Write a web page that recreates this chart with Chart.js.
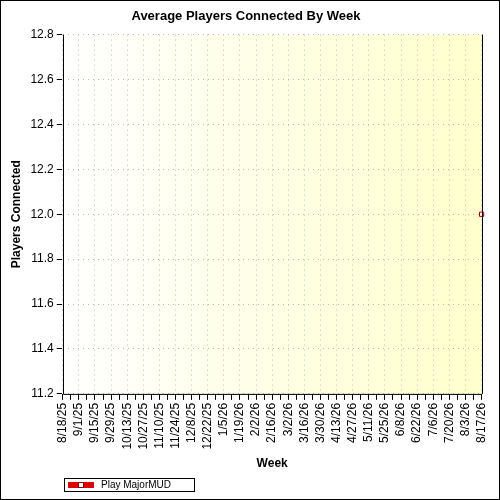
<!DOCTYPE html>
<html><head><meta charset="utf-8">
<script src="https://cdn.jsdelivr.net/npm/chart.js@4"></script>
<style>html,body{margin:0;padding:0;background:#fff}#w{width:498px;height:498px;border:1px solid #000}</style>
</head><body><div id="w"><canvas id="c" width="498" height="498"></canvas></div>
<script>
const weeks = ["8/18/25","8/25/25","9/1/25","9/8/25","9/15/25","9/22/25","9/29/25","10/6/25","10/13/25","10/20/25","10/27/25","11/3/25","11/10/25","11/17/25","11/24/25","12/1/25","12/8/25","12/15/25","12/22/25","12/29/25","1/5/26","1/12/26","1/19/26","1/26/26","2/2/26","2/9/26","2/16/26","2/23/26","3/2/26","3/9/26","3/16/26","3/23/26","3/30/26","4/6/26","4/13/26","4/20/26","4/27/26","5/4/26","5/11/26","5/18/26","5/25/26","6/1/26","6/8/26","6/15/26","6/22/26","6/29/26","7/6/26","7/13/26","7/20/26","7/27/26","8/3/26","8/10/26","8/17/26"];
const playersValues = [null,null,null,null,null,null,null,null,null,null,null,null,null,null,null,null,null,null,null,null,null,null,null,null,null,null,null,null,null,null,null,null,null,null,null,null,null,null,null,null,null,null,null,null,null,null,null,null,null,null,null,null,12.0];
const yTicks = [11.2,11.4,11.6,11.8,12.0,12.2,12.4,12.6,12.8];
const seriesName = "Play MajorMUD";
const FONT = 'Arial, "Liberation Sans", sans-serif';

const bgPlugin = {
  id:'bg',
  beforeDraw(c){const a=c.chartArea,x=c.ctx;const g=x.createLinearGradient(a.left,a.top,a.right,a.top);
    g.addColorStop(0,'#ffffff');g.addColorStop(1,'#ffffcc');x.save();x.fillStyle=g;x.fillRect(a.left,a.top,a.right-a.left,a.bottom-a.top);x.restore();},
  afterDatasetsDraw(c){const a=c.chartArea,x=c.ctx;x.save();x.strokeStyle='#000';x.lineWidth=1;x.beginPath();
    x.moveTo(Math.round(a.left)+0.5,a.top);x.lineTo(Math.round(a.left)+0.5,a.bottom+0.5);x.lineTo(a.right+0.5,a.bottom+0.5);
    x.moveTo(Math.round(a.right)+0.5,a.top);x.lineTo(Math.round(a.right)+0.5,a.bottom);x.stroke();
    // legend
    const lx=63, ly=477;
    x.strokeRect(lx+0.5,ly+0.5,130,13);
    x.fillStyle='#dd0000';x.fillRect(lx+4,ly+4,26,6);
    x.fillStyle='#fff';x.strokeStyle='#990000';x.fillRect(lx+14,ly+4,5,5);x.strokeRect(lx+14.5,ly+4.5,5,5);
    x.fillStyle='#000';x.font='10px '+FONT;x.textBaseline='middle';x.fillText(seriesName,lx+37,ly+7.5);
    x.restore();}
};
new Chart(document.getElementById('c'),{
  type:'line',
  data:{labels:weeks,datasets:[{label:seriesName,data:playersValues,borderColor:'#dd0000',backgroundColor:'#ffffff',
    pointStyle:'rect',pointRadius:3,pointBorderColor:'#990000',pointBorderWidth:1,borderWidth:2}]},
  options:{responsive:false,animation:false,devicePixelRatio:1,
    layout:{padding:{top:0,right:12,left:4,bottom:24}},
    plugins:{title:{display:true,text:'Average Players Connected By Week',color:'#000',font:{family:FONT,size:13,weight:'bold'},padding:{top:8,bottom:10}},
      legend:{display:false},tooltip:{enabled:false}},
    scales:{
      x:{offset:false,border:{display:true,color:'rgba(0,0,0,0)',dash:[1,4]},title:{display:true,text:'Week',color:'#000',font:{family:FONT,size:12,weight:'bold'},padding:{top:4}},
        grid:{color:(ctx)=>ctx.index%2===0?'#bbbbbb':'rgba(0,0,0,0)',tickColor:'#000',tickLength:6},
        ticks:{autoSkip:false,maxRotation:90,minRotation:90,color:'#000',font:{family:FONT,size:12},
          callback:(v,i)=>i%2===0?weeks[i]:''}},
      y:{min:11.2,max:12.8,afterBuildTicks:(s)=>{s.ticks=yTicks.map(v=>({value:v}));},border:{display:true,color:'rgba(0,0,0,0)',dash:[1,4]},
        title:{display:true,text:'Players Connected',color:'#000',font:{family:FONT,size:12,weight:'bold'}},
        grid:{color:'#bbbbbb',tickColor:'#000',tickLength:6},
        ticks:{color:'#000',font:{family:FONT,size:12},callback:v=>v.toFixed(1)}}
    }},
  plugins:[bgPlugin]
});
</script></body></html>
